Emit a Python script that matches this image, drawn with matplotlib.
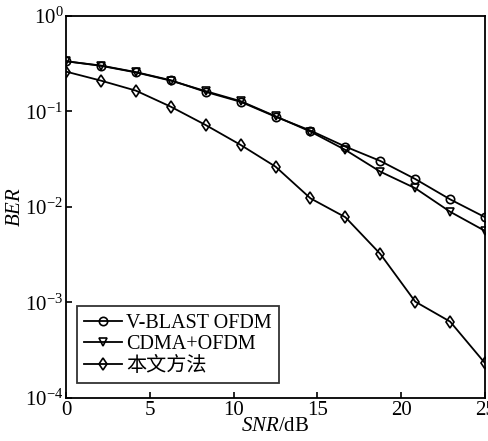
import matplotlib
matplotlib.use("Agg")
import matplotlib.pyplot as plt
import numpy as np

# data
snr = np.linspace(0, 25, 13)
ber_vblast = [0.335, 0.302, 0.258, 0.212, 0.160, 0.126, 0.088, 0.063, 0.0428, 0.0303, 0.0196, 0.0120, 0.0078]
ber_cdma = [0.335, 0.300, 0.256, 0.210, 0.163, 0.128, 0.089, 0.0615, 0.0395, 0.0234, 0.0157, 0.0089, 0.0056]
ber_ours = [0.261, 0.210, 0.165, 0.112, 0.072, 0.0446, 0.0264, 0.0123, 0.0078, 0.00322, 0.00102, 0.00063, 0.000231]
labels = ["V-BLAST OFDM", "CDMA+OFDM", "本文方法"]
xticks = [0, 5, 10, 15, 20, 25]

plt.rcParams['font.family'] = ['Liberation Serif', 'Noto Sans CJK SC']
plt.rcParams['mathtext.fontset'] = 'custom'
plt.rcParams['mathtext.rm'] = 'Liberation Serif'
plt.rcParams['mathtext.it'] = 'Liberation Serif:italic'

fig = plt.figure(figsize=(4.89, 4.41), dpi=100)
ax = fig.add_axes([0.135, 0.0975, 0.857, 0.8665])

kw = dict(color='black', lw=1.3, mfc='none', mew=1.2, ms=6)
ax.semilogy(snr, ber_vblast, marker='o', label=labels[0], **kw)
ax.semilogy(snr, ber_cdma, marker='v', label=labels[1], **kw)
ax.semilogy(snr, ber_ours, marker='d', label=labels[2], **kw)

ax.set_xlim(0, 25)
ax.set_ylim(1e-4, 1)
ax.set_xticks(xticks)
ax.set_yticks([1e-4, 1e-3, 1e-2, 1e-1, 1])
ax.yaxis.set_minor_locator(matplotlib.ticker.NullLocator())
ax.tick_params(direction='in', length=4, width=1.2, labelsize=15, top=False, right=False, pad=2)
for s in ax.spines.values():
    s.set_linewidth(1.3)

ax.set_xlabel(r'$\it{SNR}$/dB', fontsize=15, labelpad=-2)
ax.set_ylabel(r'$\it{BER}$', fontsize=15, labelpad=0)

leg = ax.legend(loc='lower left', fontsize=14.5, frameon=True, fancybox=False,
                edgecolor='black', handlelength=1.9, borderpad=0.35,
                labelspacing=0.12, handletextpad=0.2, borderaxespad=0,
                bbox_to_anchor=(0.026, 0.04))
leg.get_frame().set_linewidth(1.3)

fig.savefig('out.png', dpi=100)
